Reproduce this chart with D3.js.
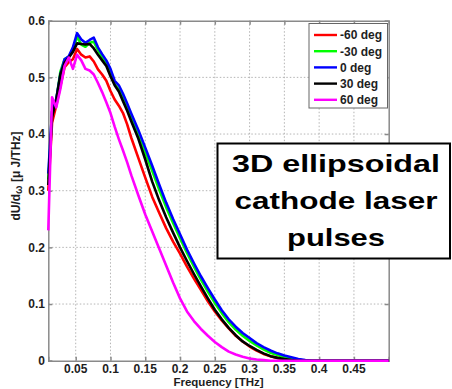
<!DOCTYPE html>
<html>
<head>
    <script src="https://d3js.org/d3.v7.min.js"></script>
    <style>
        body { margin: 0; background: #fff; }
        svg { display: block; font-family: "Liberation Sans", Arial, sans-serif; }
        .grid line { stroke: #b4b4b4; stroke-width: 1; stroke-dasharray: 1.5,2; }
        .tick-label { font-size: 12px; font-weight: bold; fill: #1e1e1e; }
        .series { fill: none; stroke-width: 2.6; stroke-linejoin: round; }
    </style>
</head>
<body>
    <div id="chart"></div>

    <script>
        // frequency samples [THz]
        const freq = [0.0106, 0.016, 0.022, 0.028, 0.034, 0.040, 0.046, 0.052, 0.058, 0.064, 0.070,
            0.076, 0.082, 0.088, 0.094, 0.100, 0.106, 0.112, 0.118, 0.124, 0.130,
            0.14, 0.15, 0.16, 0.17, 0.18, 0.19, 0.20, 0.21, 0.22, 0.23, 0.24, 0.25, 0.26, 0.27,
            0.28, 0.29, 0.30, 0.31, 0.32, 0.33, 0.34, 0.35, 0.36, 0.37, 0.38, 0.39, 0.40,
            0.45, 0.50];

        // dU/dw for each tilt angle
        const valsM60 = [0.30, 0.42, 0.45, 0.485, 0.518, 0.527, 0.532, 0.550, 0.540, 0.535, 0.537,
            0.528, 0.514, 0.505, 0.494, 0.476, 0.461, 0.450, 0.437, 0.417, 0.393,
            0.358, 0.323, 0.289, 0.261, 0.234, 0.210, 0.189, 0.166, 0.145, 0.125, 0.105, 0.087, 0.071, 0.057,
            0.044, 0.034, 0.025, 0.018, 0.012, 0.008, 0.005, 0.002, 0.001, 0, 0, 0, 0,
            0, 0];
        const valsM30 = [0.32, 0.44, 0.46, 0.51, 0.532, 0.536, 0.548, 0.572, 0.558, 0.554, 0.561,
            0.563, 0.548, 0.536, 0.524, 0.508, 0.488, 0.478, 0.463, 0.445, 0.427,
            0.398, 0.367, 0.335, 0.302, 0.271, 0.243, 0.216, 0.190, 0.166, 0.143, 0.122, 0.102, 0.084, 0.068,
            0.055, 0.044, 0.035, 0.027, 0.020, 0.014, 0.010, 0.006, 0.004, 0.002, 0, 0, 0,
            0, 0];
        const vals0 = [0.33, 0.44, 0.462, 0.505, 0.532, 0.537, 0.553, 0.578, 0.567, 0.561, 0.566,
            0.570, 0.553, 0.541, 0.530, 0.515, 0.494, 0.486, 0.471, 0.454, 0.436,
            0.407, 0.376, 0.344, 0.311, 0.279, 0.250, 0.223, 0.196, 0.172, 0.149, 0.128, 0.108, 0.089, 0.073,
            0.060, 0.049, 0.040, 0.031, 0.024, 0.018, 0.013, 0.009, 0.006, 0.003, 0.001, 0, 0,
            0, 0];
        const vals30 = [0.31, 0.43, 0.46, 0.505, 0.526, 0.535, 0.545, 0.560, 0.559, 0.558, 0.559,
            0.551, 0.540, 0.530, 0.520, 0.502, 0.486, 0.475, 0.458, 0.441, 0.422,
            0.392, 0.355, 0.316, 0.283, 0.253, 0.226, 0.200, 0.176, 0.153, 0.131, 0.110, 0.090, 0.073, 0.058,
            0.045, 0.034, 0.026, 0.019, 0.013, 0.008, 0.005, 0.003, 0.001, 0, 0, 0, 0,
            0, 0];
        const vals60 = [0.23, 0.465, 0.447, 0.48, 0.52, 0.535, 0.515, 0.540, 0.530, 0.515, 0.512,
            0.505, 0.490, 0.474, 0.456, 0.437, 0.413, 0.391, 0.371, 0.350, 0.327,
            0.292, 0.258, 0.228, 0.198, 0.168, 0.138, 0.110, 0.087, 0.070, 0.056, 0.044, 0.033, 0.024, 0.016,
            0.011, 0.007, 0.004, 0.002, 0.001, 0, 0, 0, 0, 0, 0, 0, 0,
            0, 0];

        const seriesNames = ["-60 deg", "-30 deg", "0 deg", "30 deg", "60 deg"];
        const seriesColors = ["#ff0000", "#00ff00", "#0000ff", "#000000", "#ff00ff"];
        const seriesVals = [valsM60, valsM30, vals0, vals30, vals60];

        const xTicks = [0.05, 0.1, 0.15, 0.2, 0.25, 0.3, 0.35, 0.4, 0.45];
        const yTicks = [0, 0.1, 0.2, 0.3, 0.4, 0.5, 0.6];

        const boxLines = ["3D ellipsoidal", "cathode laser", "pulses"];

        // layout
        const W = 452, H = 389;
        const plot = { left: 48.3, right: 388.7, top: 20.7, bottom: 360.7 };

        const svg = d3.select("#chart").append("svg")
            .attr("width", W)
            .attr("height", H);

        const x = d3.scaleLinear().domain([0.0106, 0.5]).range([plot.left, plot.right]);
        const y = d3.scaleLinear().domain([0, 0.6]).range([plot.bottom, plot.top]);

        // grid
        const grid = svg.append("g").attr("class", "grid");
        grid.selectAll(".gx").data(xTicks).enter().append("line")
            .attr("x1", d => x(d)).attr("x2", d => x(d))
            .attr("y1", plot.top).attr("y2", plot.bottom);
        grid.selectAll(".gy").data(yTicks.filter(d => d > 0 && d < 0.6)).enter().append("line")
            .attr("x1", plot.left).attr("x2", plot.right)
            .attr("y1", d => y(d)).attr("y2", d => y(d));

        // axes box with inward ticks
        const axisColor = "#8a8a8a";
        svg.append("g")
            .attr("transform", `translate(0,${plot.bottom})`)
            .call(d3.axisBottom(x).tickValues(xTicks).tickSize(-4).tickFormat(""))
            .call(g => g.selectAll("line, path").attr("stroke", axisColor).attr("stroke-width", 1.5));
        svg.append("g")
            .attr("transform", `translate(0,${plot.top})`)
            .call(d3.axisTop(x).tickValues(xTicks).tickSize(-4).tickFormat(""))
            .call(g => g.selectAll("line, path").attr("stroke", axisColor).attr("stroke-width", 1.5));
        svg.append("g")
            .attr("transform", `translate(${plot.left},0)`)
            .call(d3.axisLeft(y).tickValues(yTicks).tickSize(-4).tickFormat(""))
            .call(g => g.selectAll("line, path").attr("stroke", axisColor).attr("stroke-width", 1.5));
        svg.append("g")
            .attr("transform", `translate(${plot.right},0)`)
            .call(d3.axisRight(y).tickValues(yTicks).tickSize(-4).tickFormat(""))
            .call(g => g.selectAll("line, path").attr("stroke", axisColor).attr("stroke-width", 1.5));

        // tick labels
        svg.selectAll(".xl").data(xTicks).enter().append("text")
            .attr("class", "tick-label")
            .attr("x", d => x(d))
            .attr("y", 372.5)
            .attr("text-anchor", "middle")
            .text(d => String(d));
        svg.selectAll(".yl").data(yTicks).enter().append("text")
            .attr("class", "tick-label")
            .attr("x", 45)
            .attr("y", d => y(d))
            .attr("dy", "0.36em")
            .attr("text-anchor", "end")
            .text(d => String(d));

        // axis titles
        svg.append("text")
            .attr("class", "tick-label")
            .style("font-size", "11.5px")
            .attr("x", (plot.left + plot.right) / 2)
            .attr("y", 385.5)
            .attr("text-anchor", "middle")
            .text("Frequency [THz]");

        const yTitle = svg.append("text")
            .attr("class", "tick-label")
            .style("font-size", "12px")
            .attr("transform", `translate(20,176) rotate(-90)`)
            .attr("text-anchor", "middle");
        yTitle.append("tspan").text("dU/d");
        yTitle.append("tspan").attr("dy", 2).style("font-size", "10px").text("ω");
        yTitle.append("tspan").attr("dy", -2).text(" [μ J/THz]");

        // curves
        const line = d3.line()
            .x((d, i) => x(freq[i]))
            .y(d => y(d));

        svg.selectAll(".series").data(seriesVals).enter().append("path")
            .attr("class", "series")
            .attr("stroke", (d, i) => seriesColors[i])
            .attr("d", d => line(d));

        // legend
        const legend = svg.append("g");
        legend.append("rect")
            .attr("x", 309).attr("y", 23.5)
            .attr("width", 78.5).attr("height", 84.5)
            .attr("fill", "#fff")
            .attr("stroke", "#666").attr("stroke-width", 1);
        const rows = legend.selectAll(".row").data(seriesNames).enter().append("g")
            .attr("transform", (d, i) => `translate(0,${35 + i * 16.2})`);
        rows.append("line")
            .attr("x1", 314).attr("x2", 337)
            .attr("stroke", (d, i) => seriesColors[i])
            .attr("stroke-width", 2.4);
        rows.append("text")
            .attr("class", "tick-label")
            .attr("x", 340)
            .attr("dy", "0.36em")
            .text(d => d);

        // annotation box
        svg.append("rect")
            .attr("x", 217.5).attr("y", 143.5)
            .attr("width", 232.5).attr("height", 115)
            .attr("fill", "#fff")
            .attr("stroke", "#000").attr("stroke-width", 2);
        const boxWidths = [208, 203, 98];
        svg.selectAll(".boxline").data(boxLines).enter().append("text")
            .attr("x", 336)
            .attr("y", (d, i) => 172 + i * 37)
            .attr("text-anchor", "middle")
            .attr("textLength", (d, i) => boxWidths[i])
            .attr("lengthAdjust", "spacingAndGlyphs")
            .style("font-size", "24px")
            .style("font-weight", "bold")
            .attr("fill", "#000")
            .text(d => d);
    </script>
</body>
</html>
